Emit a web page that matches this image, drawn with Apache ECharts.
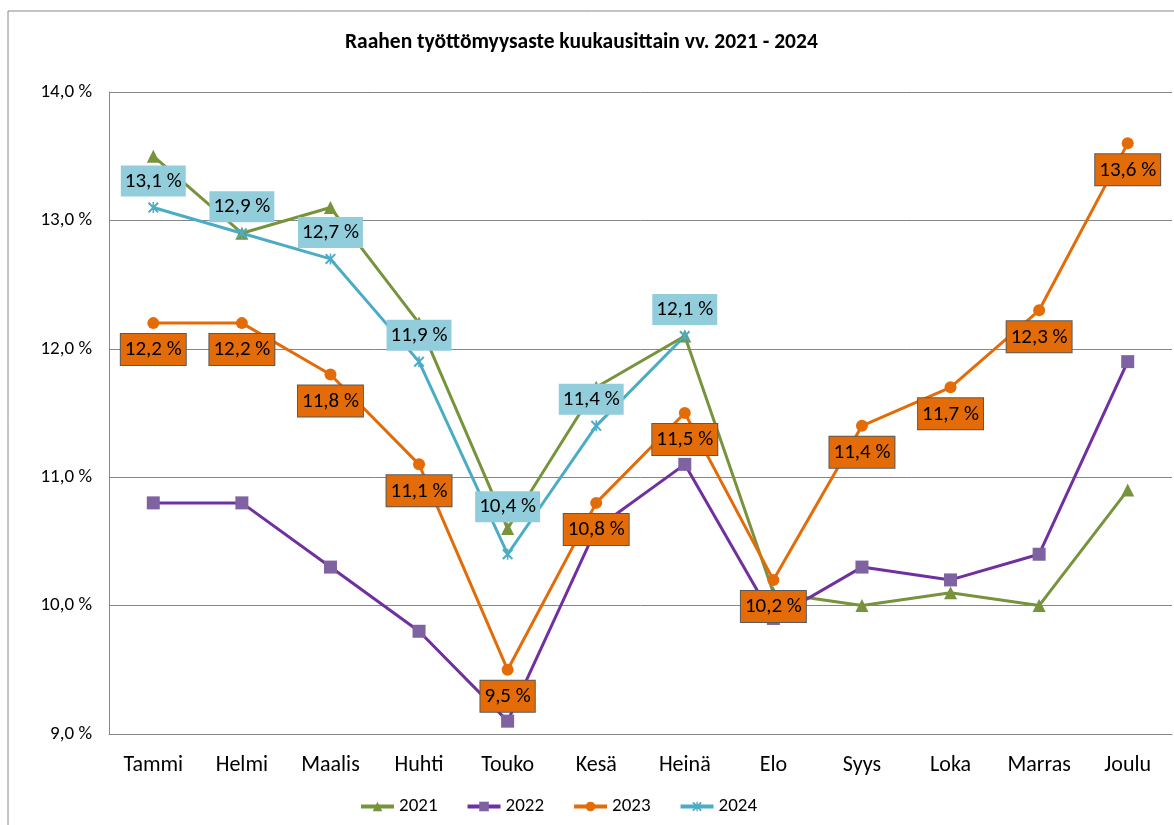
<!DOCTYPE html>
<html>
<head>
<meta charset="utf-8">
<script src="https://cdn.jsdelivr.net/npm/echarts@6/dist/echarts.min.js"></script>
<style>
  html, body { margin: 0; padding: 0; background: #fff; }
  #main { width: 1174px; height: 825px; }
</style>
</head>
<body>
<div id="main"></div>
<script>
// kuukaudet
var months = ['Tammi', 'Helmi', 'Maalis', 'Huhti', 'Touko', 'Kesä', 'Heinä', 'Elo', 'Syys', 'Loka', 'Marras', 'Joulu'];
// työttömyysaste %
var y2021 = [13.5, 12.9, 13.1, 12.2, 10.6, 11.7, 12.1, 10.1, 10.0, 10.1, 10.0, 10.9];
var y2022 = [10.8, 10.8, 10.3, 9.8, 9.1, 10.6, 11.1, 9.9, 10.3, 10.2, 10.4, 11.9];
var y2023 = [12.2, 12.2, 11.8, 11.1, 9.5, 10.8, 11.5, 10.2, 11.4, 11.7, 12.3, 13.6];
var y2024 = [13.1, 12.9, 12.7, 11.9, 10.4, 11.4, 12.1, null, null, null, null, null];

var FONT = 'Carlito, "Liberation Sans", sans-serif';
var starX = 'path://M0,1.3L1.3,0L10,8.7L8.7,10Z M8.7,0L10,1.3L1.3,10L0,8.7Z M4.3,0L5.7,0L5.7,10L4.3,10Z';

function pct(v) {
  return v.toFixed(1).replace('.', ',') + ' %';
}

var chart = echarts.init(document.getElementById('main'));

// 2024 labels: Touko is pushed further up, Kesä a bit left
var labels2024 = y2024.map(function(v, i) {
  if (i === 4) return { value: v, label: { distance: 27 } };
  if (i === 5) return { value: v, label: { offset: [-5, 0] } };
  return v;
});

var option = {
  animation: false,
  title: {
    text: 'Raahen työttömyysaste kuukausittain vv. 2021 - 2024',
    left: 340,
    top: 27,
    textStyle: { fontFamily: FONT, fontSize: 21.5, fontWeight: 'bold', color: '#000' }
  },
  graphic: [{
    type: 'rect',
    shape: { x: 8, y: 11, width: 1300, height: 1000 },
    style: { fill: 'none', stroke: '#888', lineWidth: 1 },
    silent: true
  }],
  grid: { left: 109, right: 2, top: 92, bottom: 91 },
  legend: {
    data: ['2021', '2022', '2023', '2024'],
    left: 354,
    top: 792,
    itemWidth: 33,
    itemHeight: 12,
    itemGap: 28,
    lineStyle: { width: 4 },
    textStyle: { fontFamily: FONT, fontSize: 19, color: '#000' }
  },
  xAxis: {
    type: 'category',
    data: months,
    boundaryGap: true,
    axisLine: { lineStyle: { color: '#868686' } },
    axisTick: { show: false },
    axisLabel: { fontFamily: FONT, fontSize: 22, color: '#000', margin: 20 }
  },
  yAxis: {
    type: 'value',
    min: 9,
    max: 14,
    interval: 1,
    axisLine: { show: true, lineStyle: { color: '#868686' } },
    axisTick: { show: false },
    splitLine: { lineStyle: { color: '#868686' } },
    axisLabel: { fontFamily: FONT, fontSize: 19, color: '#000', margin: 17, formatter: pct }
  },
  series: [
    {
      name: '2021', type: 'line', data: y2021,
      symbol: 'triangle', symbolSize: 13,
      lineStyle: { color: '#77933C', width: 3 },
      itemStyle: { color: '#77933C' }
    },
    {
      name: '2022', type: 'line', data: y2022,
      symbol: 'rect', symbolSize: 13,
      lineStyle: { color: '#7030A0', width: 3 },
      itemStyle: { color: '#7F62A1' }
    },
    {
      name: '2023', type: 'line', data: y2023,
      symbol: 'circle', symbolSize: 12,
      lineStyle: { color: '#E36C09', width: 3 },
      itemStyle: { color: '#E36C09' }
    },
    {
      name: '2024', type: 'line', data: y2024,
      symbol: starX, symbolSize: 11,
      lineStyle: { color: '#4BACC6', width: 3 },
      itemStyle: { color: '#4BACC6' }
    },
    // data labels drawn above every line
    {
      name: 'l2023', type: 'line', data: y2023, z: 10, silent: true,
      symbol: 'circle', symbolSize: 10,
      lineStyle: { opacity: 0, width: 0 },
      itemStyle: { color: 'rgba(0,0,0,0)' },
      label: {
        show: true, position: 'bottom', distance: 6,
        formatter: function(p) { return pct(p.value); },
        fontFamily: FONT, fontSize: 21, lineHeight: 20, color: '#000',
        backgroundColor: '#E36C09', borderColor: '#595959', borderWidth: 1,
        padding: [6, 4, 5, 4]
      }
    },
    {
      name: 'l2024', type: 'line', data: labels2024, z: 11, silent: true,
      symbol: 'circle', symbolSize: 10,
      lineStyle: { opacity: 0, width: 0 },
      itemStyle: { color: 'rgba(0,0,0,0)' },
      label: {
        show: true, position: 'top', distance: 6,
        formatter: function(p) { return pct(p.value); },
        fontFamily: FONT, fontSize: 21, lineHeight: 20, color: '#000',
        backgroundColor: '#92CDDC',
        padding: [6, 4, 5, 4]
      }
    }
  ]
};

chart.setOption(option);
</script>
</body>
</html>
